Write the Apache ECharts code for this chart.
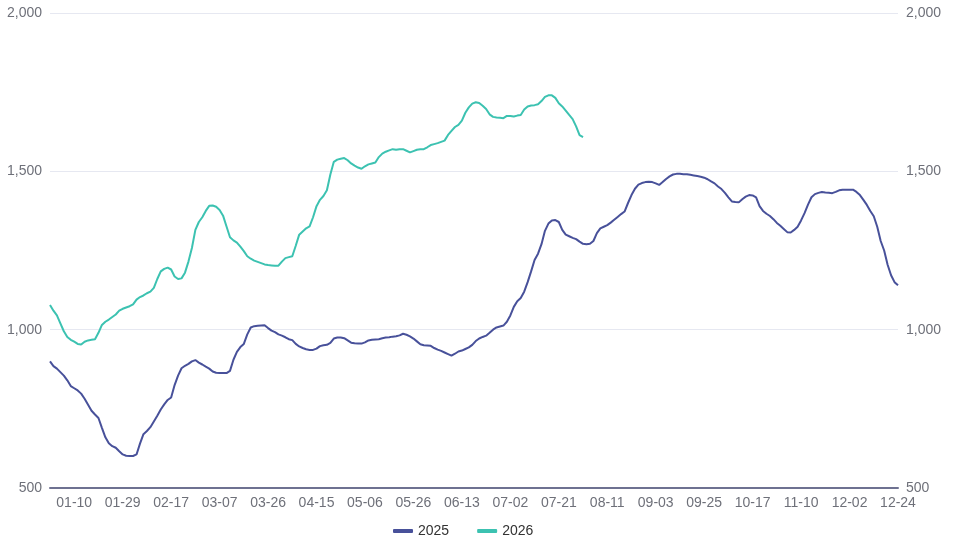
<!DOCTYPE html>
<html>
<head>
<meta charset="utf-8">
<title>2025 vs 2026</title>
<script src="https://cdn.jsdelivr.net/npm/echarts@6/dist/echarts.min.js"></script>
<style>
    html, body { margin: 0; padding: 0; background: #fff; }
    #chart { width: 953px; height: 542px; }
</style>
</head>
<body>
<div id="chart"></div>
<script>
// Dates (MM-DD), one per trading day
const categories = [
    '01-02','01-03','01-05','01-06','01-07','01-08','01-09',
    '01-10','01-13','01-14','01-15','01-16','01-17','01-20','01-21','01-22','01-23','01-24','01-26','01-27','01-28',
    '01-29','01-30','02-02','02-03','02-04','02-05','02-06','02-07','02-09','02-10','02-11','02-12','02-13','02-16',
    '02-17','02-18','02-19','02-20','02-23','02-24','02-25','02-26','02-27','03-02','03-03','03-04','03-05','03-06',
    '03-07','03-09','03-10','03-11','03-12','03-13','03-16','03-17','03-18','03-19','03-20','03-23','03-24','03-25',
    '03-26','03-27','03-30','03-31','04-01','04-02','04-03','04-06','04-07','04-08','04-09','04-10','04-13','04-14',
    '04-15','04-16','04-17','04-20','04-21','04-22','04-23','04-24','04-25','04-27','04-28','04-29','04-30','05-05',
    '05-06','05-07','05-08','05-11','05-12','05-13','05-14','05-15','05-18','05-19','05-20','05-21','05-22','05-25',
    '05-26','05-27','05-28','05-29','06-01','06-02','06-03','06-04','06-05','06-08','06-09','06-10','06-11','06-12',
    '06-13','06-15','06-16','06-17','06-18','06-19','06-22','06-23','06-24','06-25','06-26','06-29','06-30','07-01',
    '07-02','07-03','07-06','07-07','07-08','07-09','07-10','07-13','07-14','07-15','07-16','07-17','07-18','07-20',
    '07-21','07-22','07-23','07-24','07-27','07-28','07-29','07-30','07-31','08-03','08-04','08-05','08-06','08-10',
    '08-11','08-12','08-13','08-17','08-18','08-19','08-20','08-24','08-25','08-26','08-27','08-31','09-01','09-02',
    '09-03','09-04','09-07','09-08','09-09','09-10','09-14','09-15','09-16','09-17','09-21','09-22','09-23','09-24',
    '09-25','09-26','09-28','09-29','09-30','10-08','10-09','10-10','10-11','10-12','10-13','10-14','10-15','10-16',
    '10-17','10-19','10-20','10-21','10-22','10-26','10-27','10-28','10-29','11-02','11-03','11-04','11-05','11-09',
    '11-10','11-11','11-12','11-16','11-17','11-18','11-19','11-23','11-24','11-25','11-26','11-27','11-30','12-01',
    '12-02','12-03','12-04','12-07','12-08','12-09','12-10','12-14','12-15','12-16','12-17','12-21','12-22','12-23',
    '12-24'
];

const values2025 = [
    900, 885, 877, 866, 855, 840, 822, 815, 808, 798,
    782, 763, 744, 732, 721, 690, 660, 641, 632, 627,
    616, 606, 602, 601, 601, 606, 640, 670, 680, 692,
    710, 728, 748, 764, 778, 786, 825, 855, 878, 886,
    892, 900, 904, 896, 890, 883, 877, 868, 864, 863,
    863, 863, 870, 905, 930, 945, 955, 985, 1007, 1011,
    1012, 1013, 1014, 1005, 997, 992, 985, 981, 976, 970,
    967, 955, 947, 942, 938, 936, 936, 940, 948, 951,
    952, 958, 972, 975, 975, 973, 966, 959, 957, 956,
    956, 960, 966, 968, 969, 970, 973, 975, 976, 978,
    979, 982, 987, 984, 979, 972, 963, 954, 951, 950,
    949, 942, 937, 933, 928, 923, 918, 924, 931, 934,
    939, 944, 952, 964, 972, 977, 981, 990, 1000, 1007,
    1010, 1013, 1025, 1045, 1072, 1090, 1100, 1120, 1150, 1184,
    1220, 1240, 1270, 1312, 1335, 1345, 1346, 1340, 1315, 1300,
    1295, 1290, 1286, 1278, 1271, 1270, 1271, 1280, 1305, 1320,
    1325, 1330, 1338, 1347, 1356, 1365, 1373, 1400, 1425, 1445,
    1458, 1463, 1466, 1467, 1466, 1462, 1457, 1466, 1476, 1484,
    1490, 1492, 1492, 1491, 1491, 1489, 1487, 1485, 1483, 1480,
    1475, 1468, 1462, 1452, 1444, 1432, 1418, 1405, 1403, 1402,
    1412, 1420, 1425, 1424, 1418, 1390, 1375, 1366, 1359, 1349,
    1337, 1328, 1318, 1308, 1307, 1315, 1325, 1345, 1368, 1395,
    1418, 1428, 1432, 1435, 1433, 1432, 1431, 1435, 1440, 1442,
    1442, 1442, 1442, 1435, 1425, 1410, 1394, 1375, 1358, 1325,
    1280, 1250, 1205, 1172, 1150, 1140
];

const values2026 = [
    1078, 1060, 1045, 1020, 995, 977, 968, 962, 955, 953,
    962, 966, 968, 970, 990, 1015, 1025, 1032, 1040, 1048,
    1060, 1066, 1070, 1074, 1080, 1095, 1103, 1108, 1115, 1120,
    1132, 1160, 1184, 1192, 1196, 1190, 1168, 1160, 1162, 1180,
    1215, 1258, 1315, 1340, 1355, 1375, 1391, 1392, 1388, 1378,
    1360, 1326, 1292, 1282, 1275, 1262, 1248, 1232, 1224, 1218,
    1214, 1210, 1206, 1204, 1203, 1202, 1202, 1215, 1226, 1229,
    1232, 1265, 1300, 1310, 1320, 1326, 1355, 1390, 1410, 1422,
    1440, 1490, 1530, 1537, 1540, 1542, 1535, 1525, 1518, 1512,
    1508, 1516, 1522, 1525, 1528, 1545, 1556, 1562, 1566, 1570,
    1568, 1570, 1570, 1565, 1560, 1564, 1568, 1570, 1570, 1576,
    1583, 1586, 1589, 1593, 1597, 1615, 1628, 1640, 1647, 1660,
    1685, 1702, 1714, 1718, 1716, 1707, 1697, 1680, 1672, 1670,
    1669, 1668, 1675, 1675, 1673, 1676, 1678, 1695, 1705, 1708,
    1709, 1712, 1722, 1735, 1740, 1740, 1732, 1715, 1705, 1692,
    1678, 1665, 1642, 1614, 1608
];

const seriesNames = ['2025', '2026'];
const seriesColors = ['#48519a', '#3cc2b1'];

// y axis range, same on both sides
const yMin = 500;
const yMax = 2000;
const yStep = 500;

const chart = echarts.init(document.getElementById('chart'));

const axisLabelStyle = {
    color: '#6E7079',
    fontSize: 14
};

chart.setOption({
    animation: false,
    color: seriesColors,
    grid: {
        left: 50,
        right: 55,
        top: 13,
        bottom: 54
    },
    legend: {
        top: 519,
        left: 388,
        icon: 'roundRect',
        itemWidth: 20,
        itemHeight: 4,
        itemGap: 28,
        textStyle: { color: '#333', fontSize: 14 },
        data: seriesNames
    },
    xAxis: {
        type: 'category',
        data: categories,
        boundaryGap: false,
        axisLine: { lineStyle: { color: '#6e7191', width: 2 } },
        axisTick: { show: false },
        axisLabel: Object.assign({
            // one label every 14 days, starting at 01-10
            interval: function (index) { return index % 14 === 7; }
        }, axisLabelStyle)
    },
    yAxis: [
        {
            type: 'value',
            min: yMin,
            max: yMax,
            interval: yStep,
            axisLine: { show: false },
            axisTick: { show: false },
            axisLabel: axisLabelStyle,
            splitLine: { lineStyle: { color: '#E6E8F1' } }
        },
        {
            type: 'value',
            position: 'right',
            min: yMin,
            max: yMax,
            interval: yStep,
            axisLine: { show: false },
            axisTick: { show: false },
            axisLabel: axisLabelStyle,
            splitLine: { show: false }
        }
    ],
    series: [
        {
            name: seriesNames[0],
            type: 'line',
            data: values2025,
            symbol: 'none',
            lineStyle: { width: 2 }
        },
        {
            name: seriesNames[1],
            type: 'line',
            data: values2026,
            symbol: 'none',
            lineStyle: { width: 2 }
        }
    ]
});
</script>
</body>
</html>
